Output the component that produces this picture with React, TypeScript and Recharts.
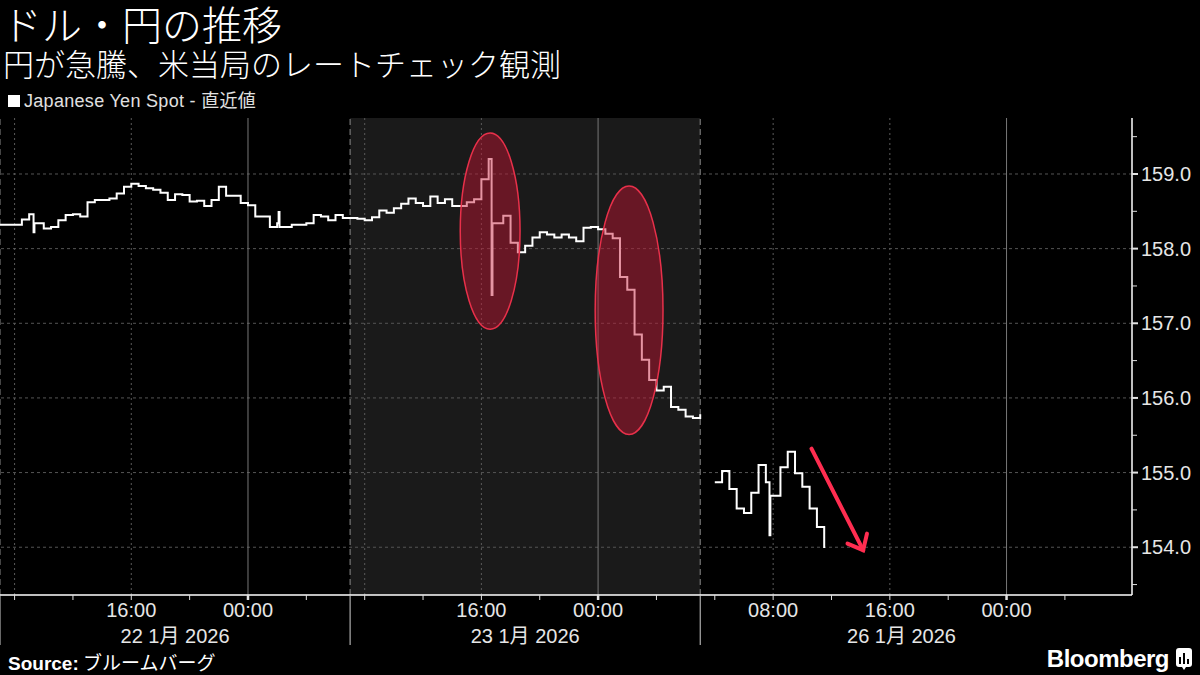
import React from 'react'
import { LineChart, Line, XAxis, YAxis, ReferenceArea, ReferenceLine } from 'recharts'

// t = hours since 22 Jan 07:00 (Tokyo), weekend squeezed out; 26 Jan session opens at t=48
const step = 0.5
const seg1Start = 0
const seg1 = [
  158.32, 158.32, 158.32, 158.39, 158.46, 158.34, 158.27, 158.29, 158.38, 158.45,
  158.46, 158.43, 158.62, 158.65, 158.65, 158.67, 158.74, 158.83, 158.87, 158.84,
  158.81, 158.79, 158.75, 158.65, 158.73, 158.72, 158.63, 158.64, 158.57, 158.65,
  158.83, 158.71, 158.71, 158.61, 158.58, 158.43, 158.43, 158.29, 158.34, 158.29,
  158.32, 158.32, 158.34, 158.45, 158.43, 158.38, 158.45, 158.41,
]
const seg2Start = 24
const seg2 = [
  158.41, 158.4, 158.38, 158.42, 158.51, 158.48, 158.54, 158.6, 158.67, 158.61,
  158.57, 158.7, 158.61, 158.66, 158.57, 158.57, 158.62, 158.66, 158.93, 159.2,
  158.34, 158.44, 158.08, 157.95, 158.04, 158.15, 158.22, 158.19, 158.15, 158.19,
  158.15, 158.1, 158.28, 158.29, 158.26, 158.2, 158.14, 157.62, 157.45, 156.85,
  156.51, 156.24, 156.1, 156.15, 155.88, 155.84, 155.75, 155.73, 155.78,
]
const seg3Start = 49
const seg3 = [
  154.87, 155.02, 154.78, 154.52, 154.46, 154.73, 155.1, 154.87, 154.69, 155.07,
  155.28, 154.99, 154.81, 154.52, 154.27, 153.99,
]
// short one-tick spikes
const spikeT = [2.3, 19.1, 33.7, 52.75]
const spikeV = [158.22, 158.49, 157.38, 154.16]

const sessionStarts = [0, 24, 48]
const xTicks = [1, 5, 9, 13, 17, 21, 25, 29, 33, 37, 41, 45, 49, 53, 57, 61, 65, 69, 73]
const midnights = [17, 41, 69]
const dottedX = [1, 9, 25, 33, 53, 61]
const labelTicks = [9, 17, 33, 41, 53, 61, 69]
const labelText = ['16:00', '00:00', '16:00', '00:00', '08:00', '16:00', '00:00']
const dateTicks = [12, 36, 61.8]
const dateLabels = ['22 1月 2026', '23 1月 2026', '26 1月 2026']

const yMajor = [154, 155, 156, 157, 158, 159]
const yMinor = [153.5, 154.5, 155.5, 156.5, 157.5, 158.5, 159.5]

type Pt = { t: number; v: number | null }
const pts: Pt[] = []
const pushSeg = (start: number, vals: number[]) => vals.forEach((v, i) => pts.push({ t: start + i * step, v }))
pushSeg(seg1Start, seg1)
pushSeg(seg2Start, seg2)
pts.push({ t: 48.5, v: null })
pushSeg(seg3Start, seg3)
spikeT.forEach((t, i) => {
  const next = pts.find(p => p.t > t && p.v != null)
  pts.push({ t, v: spikeV[i] })
  pts.push({ t: t + 0.06, v: next ? next.v : spikeV[i] })
})
pts.sort((a, b) => a.t - b.t)

const axisFont = "'Liberation Sans', 'Noto Sans CJK JP', sans-serif"
const cjkFont = "'Noto Sans CJK JP', 'Liberation Sans', sans-serif"

function TimeTick({ x, y, payload }: any) {
  const t = payload.value
  if (sessionStarts.includes(t)) {
    return <line x1={x} x2={x} y1={y} y2={y + 50} stroke="#d0d0d0" strokeWidth={1} />
  }
  const idx = labelTicks.indexOf(t)
  return (
    <g>
      <line x1={x} x2={x} y1={y} y2={y + 5} stroke="#e0e0e0" strokeWidth={midnights.includes(t) ? 2.5 : 1} />
      {idx >= 0 && (
        <text x={x} y={y + 22} textAnchor="middle" fill="#e6e6e6" fontSize={20} fontFamily={axisFont}>
          {labelText[idx]}
        </text>
      )}
    </g>
  )
}

function DateTick({ x, y, payload }: any) {
  const idx = dateTicks.indexOf(payload.value)
  return (
    <text x={x} y={y + 20} textAnchor="middle" fill="#e6e6e6" fontSize={20} fontFamily={axisFont}>
      {dateLabels[idx]}
    </text>
  )
}

function PriceTick({ x, y, payload }: any) {
  const v = payload.value
  const major = yMajor.includes(v)
  return (
    <g>
      <line x1={x} x2={x + (major ? 6 : 5)} y1={y} y2={y} stroke="#e0e0e0" strokeWidth={major ? 2 : 1} />
      {major && (
        <text x={x + 9} y={y + 7} fill="#e6e6e6" fontSize={20} fontFamily={axisFont}>
          {v.toFixed(1)}
        </text>
      )}
    </g>
  )
}

const Ellipse = (p: any) => (
  <ellipse
    cx={p.x + p.width / 2}
    cy={p.y + p.height / 2}
    rx={p.width / 2}
    ry={p.height / 2}
    fill="rgb(200,20,50)"
    fillOpacity={0.45}
    stroke="#e8304a"
    strokeWidth={1.5}
  />
)

const Arrow = (p: any) => {
  const x1 = p.x, y1 = p.y, x2 = p.x + p.width, y2 = p.y + p.height
  const back = Math.atan2(y1 - y2, x1 - x2)
  const len = 17
  const w1 = back + (40 * Math.PI) / 180
  const w2 = back - (40 * Math.PI) / 180
  return (
    <g stroke="#ff2d50" strokeWidth={4} strokeLinecap="round" fill="none">
      <line x1={x1} y1={y1} x2={x2} y2={y2} />
      <polyline points={`${x2 + len * Math.cos(w1)},${y2 + len * Math.sin(w1)} ${x2},${y2} ${x2 + len * Math.cos(w2)},${y2 + len * Math.sin(w2)}`} />
    </g>
  )
}

export default function App() {
  return (
    <div style={{ position: 'fixed', left: 0, top: 0, width: 1200, height: 675, background: '#000', overflow: 'hidden' }}>
      <div style={{ position: 'absolute', left: 2, top: 3, fontFamily: cjkFont, fontSize: 40, lineHeight: '41px', color: '#fff', fontWeight: 300, whiteSpace: 'nowrap' }}>
        ドル・円の推移
      </div>
      <div style={{ position: 'absolute', left: 3, top: 46, fontFamily: cjkFont, fontSize: 31, lineHeight: '34px', color: '#fff', fontWeight: 300, whiteSpace: 'nowrap' }}>
        円が急騰、米当局のレートチェック観測
      </div>
      <div style={{ position: 'absolute', left: 8, top: 89, fontFamily: axisFont, fontSize: 18, lineHeight: '24px', color: '#e0e0e0', display: 'flex', alignItems: 'center', whiteSpace: 'nowrap', letterSpacing: 0.3 }}>
        <span style={{ display: 'inline-block', width: 12, height: 12, background: '#fff', marginRight: 4 }} />
        Japanese Yen Spot - 直近値
      </div>
      <div style={{ position: 'absolute', left: 0, top: 0 }}>
        <LineChart width={1200} height={675} data={pts} margin={{ top: 118, right: 0, bottom: 0, left: 0 }}>
          <ReferenceArea x1={24} x2={48} fill="#1a1a1a" fillOpacity={1} stroke="none" />
          {yMajor.map(v => (
            <ReferenceLine key={'h' + v} y={v} stroke="#555" strokeDasharray="3 3" />
          ))}
          {dottedX.map(t => (
            <ReferenceLine key={'d' + t} x={t} stroke="#5a5a5a" strokeDasharray="2 3" />
          ))}
          {midnights.map(t => (
            <ReferenceLine key={'m' + t} x={t} stroke="#777" />
          ))}
          {sessionStarts.map(t => (
            <ReferenceLine key={'s' + t} x={t} stroke="#8a8a8a" strokeDasharray="6 4" />
          ))}
          <XAxis
            dataKey="t"
            type="number"
            domain={[0, 77.6]}
            allowDataOverflow
            ticks={[...sessionStarts, ...xTicks]}
            interval={0}
            height={28}
            tickSize={0}
            tickMargin={0}
            tickLine={false}
            axisLine={{ stroke: '#ffffff', strokeWidth: 1.5 }}
            tick={<TimeTick />}
          />
          <XAxis
            xAxisId="date"
            dataKey="t"
            type="number"
            domain={[0, 77.6]}
            allowDataOverflow
            ticks={dateTicks}
            interval={0}
            height={52}
            tickSize={0}
            tickMargin={0}
            tickLine={false}
            axisLine={false}
            tick={<DateTick />}
          />
          <YAxis
            orientation="right"
            type="number"
            domain={[153.36, 159.75]}
            allowDataOverflow
            ticks={[...yMinor, ...yMajor].sort((a, b) => a - b)}
            interval={0}
            width={68}
            tickSize={0}
            tickMargin={0}
            tickLine={false}
            axisLine={{ stroke: '#ffffff', strokeWidth: 1.5 }}
            tick={<PriceTick />}
          />
          <Line
            type="stepAfter"
            dataKey="v"
            stroke="#ffffff"
            strokeWidth={2}
            dot={false}
            activeDot={false}
            connectNulls={false}
            isAnimationActive={false}
          />
          <ReferenceArea x1={31.55} x2={35.65} y1={156.92} y2={159.55} shape={Ellipse} zIndex={1000} />
          <ReferenceArea x1={40.8} x2={45.45} y1={155.51} y2={158.84} shape={Ellipse} zIndex={1000} />
          <ReferenceArea x1={55.63} x2={59.17} y1={153.96} y2={155.32} shape={Arrow} zIndex={1000} />
        </LineChart>
      </div>
      <div style={{ position: 'absolute', left: 8, top: 650, fontFamily: cjkFont, fontSize: 19, lineHeight: '24px', color: '#fff', whiteSpace: 'nowrap' }}>
        <b style={{ fontFamily: axisFont }}>Source:</b> ブルームバーグ
      </div>
      <div style={{ position: 'absolute', right: 8, top: 645, display: 'flex', alignItems: 'center', gap: 7 }}>
        <span style={{ fontFamily: axisFont, fontWeight: 700, fontSize: 24, color: '#fff', letterSpacing: -0.5 }}>Bloomberg</span>
        <svg width={16} height={22} viewBox="0 0 16 22">
          <rect x={0} y={0} width={16} height={19} rx={3} fill="#fff" />
          <path d="M6 19 L8 22 L10 19 Z" fill="#fff" />
          <rect x={3} y={9} width={2} height={7} fill="#000" />
          <rect x={7} y={5} width={2} height={11} fill="#000" />
          <rect x={11} y={11} width={2} height={5} fill="#000" />
        </svg>
      </div>
    </div>
  )
}
